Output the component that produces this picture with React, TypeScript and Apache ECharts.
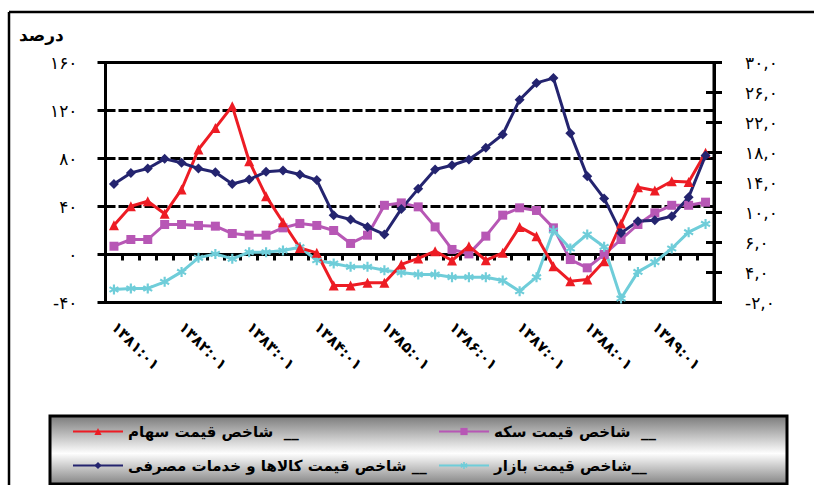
import React, { useEffect, useRef } from "react";
import * as echarts from "echarts";

const years = ["۱۳۸۱", "۱۳۸۲", "۱۳۸۳", "۱۳۸۴", "۱۳۸۵", "۱۳۸۶", "۱۳۸۷", "۱۳۸۸", "۱۳۸۹"];
const quarters = ["۰۱", "۰۲", "۰۳", "۰۴"];
const categories = years.flatMap((y) => quarters.map((q) => y + ":" + q));

const leftTicks = ["-۴۰", "۰", "۴۰", "۸۰", "۱۲۰", "۱۶۰"];
const rightTicks = ["-۲,۰", "۴,۰", "۶,۰", "۱۰,۰", "۱۴,۰", "۱۸,۰", "۲۲,۰", "۲۶,۰", "۳۰,۰"];

const stockName = "شاخص قیمت سهام";
const coinName = "شاخص قیمت سکه";
const cpiName = "شاخص قیمت کالاها و خدمات مصرفی";
const marketName = "شاخص قیمت بازار";

const stockIndex = [24.4, 40.2, 44.4, 33.9, 54.2, 87.5, 105.5, 123.6, 77.8, 48.6, 26.9, 5.5, 1.4, -25.8, -25.8, -23.6, -23.6, -8.3, -3.3, 2.8, -5, 6.9, -4.8, 1.4, 23, 15.3, -9.7, -22.2, -20.8, -5.6, 25.8, 56, 53.3, 61, 60.5, 84.7];
const coinIndex = [6.9, 12.5, 12.5, 25, 25, 24.2, 23.6, 17.5, 16.1, 16.1, 22.2, 25.8, 24.2, 20, 9.2, 16.1, 41, 43, 39.7, 23, 4.2, 0.5, 15.3, 32.8, 38.9, 36.7, 22.2, -4.2, -11.1, 0, 12.5, 25, 34.7, 41, 41, 43.6];
const cpiIndex = [58.8, 68, 71.7, 79.7, 76.4, 71.7, 68.6, 58.8, 62.5, 68.9, 70, 66.7, 62, 32.8, 29.2, 23, 16.7, 38, 54.7, 70.8, 74.4, 79.2, 88.9, 100, 129, 143, 147, 101, 65.3, 46.7, 18, 27.8, 28.6, 31.9, 47.8, 82.5];
const marketIndex = [-29.2, -28.3, -28.3, -22.8, -14.5, -2.8, 0.5, -3.6, 1.9, 1.9, 3.3, 6.1, -4.8, -7.5, -10.3, -10.3, -13.1, -15, -16.7, -16.7, -18.9, -18.9, -18.9, -21.7, -30.6, -18.9, 20, 5, 16.7, 6.4, -36.7, -14.5, -6.4, 5, 18.6, 25.5];

const legendSuffix: Record<string, string> = {
  [stockName]: "  __",
  [coinName]: "  __",
  [cpiName]: " __",
  [marketName]: "__",
};

const FONT = "'DejaVu Sans', sans-serif";
const asterisk =
  "path://M-1,-4.5L1,-4.5L1,-1.5L3.6,-3L4.6,-1.3L2,0L4.6,1.3L3.6,3L1,1.5L1,4.5L-1,4.5L-1,1.5L-3.6,3L-4.6,1.3L-2,0L-4.6,-1.3L-3.6,-3L-1,-1.5Z";

export default function App() {
  const ref = useRef<HTMLDivElement>(null);
  useEffect(() => {
    if (!ref.current) return;
    const chart = echarts.init(ref.current, null, { renderer: "svg" });
    const mkSeries = (name: string, data: number[], color: string, symbol: string, size: number) => ({
      name,
      type: "line",
      data,
      xAxisIndex: 0,
      yAxisIndex: 0,
      symbol,
      symbolSize: size,
      showSymbol: true,
      lineStyle: { color, width: 3 },
      itemStyle: { color, borderWidth: 0 },
    });
    const mkLegend = (name: string, left: number, top: number) => ({
      data: [name],
      left,
      top,
      padding: 0,
      itemWidth: 50,
      itemHeight: 9,
      itemGap: 5,
      formatter: (n: string) => n + legendSuffix[n],
      textStyle: { fontFamily: FONT, fontSize: 15, fontWeight: "bold", color: "#000" },
      selectedMode: false,
    });
    chart.setOption({
      animation: false,
      backgroundColor: "#fff",
      textStyle: { fontFamily: FONT },
      title: {
        text: "درصد",
        left: 19,
        top: 26,
        padding: 0,
        textStyle: { fontFamily: FONT, fontSize: 17, fontWeight: "bold", color: "#000" },
      },
      grid: {
        left: 105.5,
        right: 100,
        top: 62.5,
        bottom: 182.5,
        show: true,
        borderColor: "#000",
        borderWidth: 3,
        backgroundColor: "transparent",
      },
      graphic: [
        { type: "line", z: 0, shape: { x1: 9, y1: 12, x2: 814, y2: 12 }, style: { stroke: "#000", lineWidth: 2.5 } },
        { type: "line", z: 0, shape: { x1: 9, y1: 12, x2: 9, y2: 485 }, style: { stroke: "#000", lineWidth: 2.5 } },
        {
          type: "rect",
          z: 0,
          shape: { x: 50, y: 416, width: 737, height: 68 },
          style: {
            fill: new echarts.graphic.LinearGradient(0, 0, 0, 1, [
              { offset: 0, color: "#7b7b7b" },
              { offset: 0.55, color: "#fefefe" },
              { offset: 1, color: "#858585" },
            ]),
            stroke: "#000",
            lineWidth: 3,
          },
        },
      ],
      legend: [
        mkLegend(stockName, 72, 424),
        mkLegend(coinName, 438, 424),
        mkLegend(cpiName, 72, 458),
        mkLegend(marketName, 438, 458),
      ],
      xAxis: {
        type: "category",
        data: categories,
        boundaryGap: true,
        axisLine: { onZero: true, lineStyle: { color: "#000", width: 3 } },
        axisTick: { show: true, interval: 0, length: 6, lineStyle: { color: "#000", width: 3 } },
        axisLabel: {
          interval: 3,
          rotate: -45,
          margin: 22,
          color: "#000",
          fontFamily: FONT,
          fontSize: 15,
          fontWeight: "bold",
        },
        splitLine: { show: false },
      },
      yAxis: [
        {
          type: "value",
          position: "left",
          min: -40,
          max: 160,
          interval: 40,
          axisLine: { show: true, lineStyle: { color: "#000", width: 3 } },
          axisTick: { show: true, length: 8, lineStyle: { color: "#000", width: 3 } },
          axisLabel: {
            margin: 28,
            color: "#000",
            fontFamily: FONT,
            fontSize: 17,
            formatter: (v: number) => leftTicks[Math.round((v + 40) / 40)] ?? "",
          },
          splitLine: { show: true, lineStyle: { color: "#000", width: 3, type: [10, 3] } },
        },
        {
          type: "value",
          position: "right",
          min: 0,
          max: 8,
          interval: 1,
          axisLine: { show: true, lineStyle: { color: "#000", width: 3 } },
          axisTick: { show: true, length: 8, lineStyle: { color: "#000", width: 3 } },
          axisLabel: {
            margin: 31,
            color: "#000",
            fontFamily: FONT,
            fontSize: 17,
            formatter: (v: number) => rightTicks[Math.round(v)] ?? "",
          },
          splitLine: { show: false },
        },
        {
          type: "value",
          position: "right",
          min: 0,
          max: 8,
          interval: 1,
          axisLine: { show: false },
          axisTick: { show: true, inside: true, length: 8, lineStyle: { color: "#000", width: 3 } },
          axisLabel: { show: false },
          splitLine: { show: false },
        },
      ],
      series: [
        mkSeries(coinName, coinIndex, "#B757B5", "rect", 9),
        mkSeries(marketName, marketIndex, "#6FCDD9", asterisk, 10),
        mkSeries(stockName, stockIndex, "#ED1C24", "triangle", 10),
        mkSeries(cpiName, cpiIndex, "#24246F", "diamond", 10),
      ],
    });
    return () => chart.dispose();
  }, []);
  return <div ref={ref} style={{ position: "fixed", left: 0, top: 0, width: 814, height: 485 }} />;
}
